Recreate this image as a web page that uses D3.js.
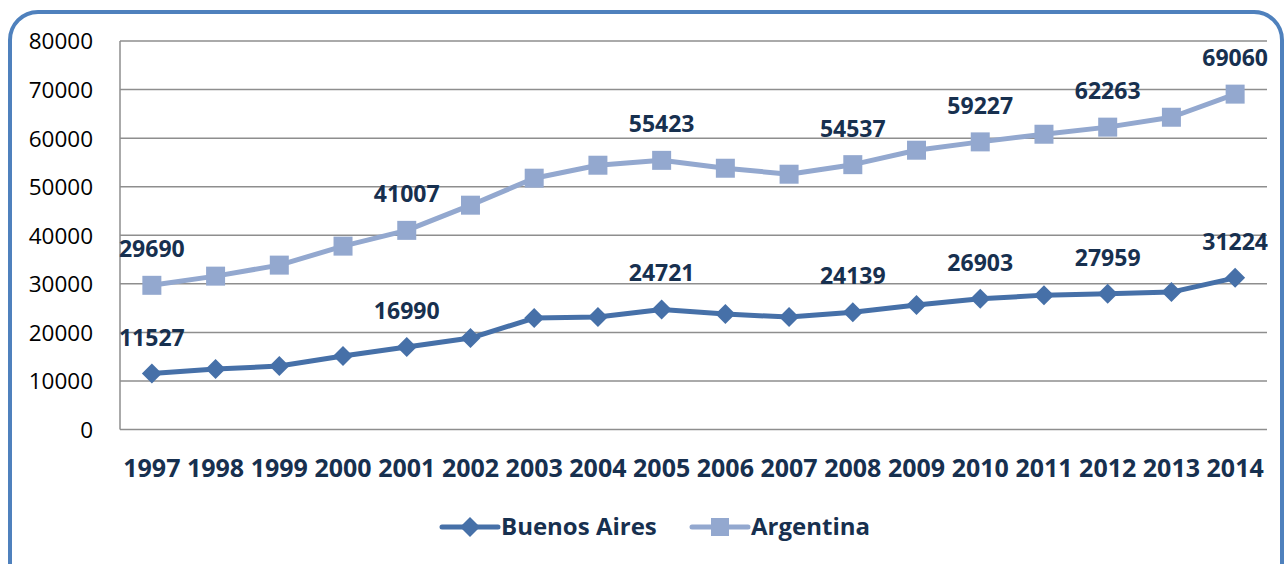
<!DOCTYPE html>
<html><head><meta charset="utf-8">
<script src="https://cdn.jsdelivr.net/npm/d3@7"></script>
<style>html,body{margin:0;padding:0;background:#fff;overflow:hidden}</style>
</head><body>
<svg id="c" width="1284" height="564"></svg>
<script>
const years = ["1997","1998","1999","2000","2001","2002","2003","2004","2005","2006","2007","2008","2009","2010","2011","2012","2013","2014"];
const buenosAires = [11527,12450,13070,15120,16990,18830,22940,23150,24721,23770,23150,24139,25620,26903,27670,27959,28290,31224];
const argentina = [29690,31580,33850,37760,41007,46190,51750,54420,55423,53800,52570,54537,57510,59227,60800,62263,64300,69060];
const labelled = ["1997","2001","2005","2008","2010","2012","2014"];
const yTicks = [0,10000,20000,30000,40000,50000,60000,70000,80000];
const seriesNames = ["Buenos Aires","Argentina"];

const svg = d3.select("#c");
const font = "'Open Sans', 'Noto Sans', sans-serif";
const textCol = "#17304f";
const cBA = "#4670a8", cAR = "#93a8cf";

svg.append("rect").attr("x",10).attr("y",12).attr("width",1272).attr("height",600)
  .attr("rx",28).attr("fill","#fff").attr("stroke","#4f81bd").attr("stroke-width",4);

const x = d3.scaleBand().domain(years).range([120,1267]);
const y = d3.scaleLinear().domain([0,80000]).range([429.5,41]);

svg.append("g").selectAll("line").data(yTicks).join("line")
  .attr("x1",120).attr("x2",1267).attr("y1",d=>y(d)).attr("y2",d=>y(d))
  .attr("stroke","#8e8e8e").attr("stroke-width",1.5);
svg.append("line").attr("x1",120).attr("x2",120).attr("y1",y(80000)).attr("y2",y(0))
  .attr("stroke","#8e8e8e").attr("stroke-width",1.5);

const ya = svg.append("g").attr("transform","translate(93,0)")
  .call(d3.axisLeft(y).tickValues(yTicks).tickFormat(d3.format("d")).tickSize(0).tickPadding(0));
ya.select(".domain").remove();
ya.selectAll("text").attr("font-family",font).attr("font-size",22.5).attr("fill","#000").attr("dy","0.35em");

const xa = svg.append("g").attr("transform","translate(0,468)")
  .call(d3.axisBottom(x).tickSize(0).tickPadding(0));
xa.select(".domain").remove();
xa.selectAll("text").attr("font-family",font).attr("font-size",25).attr("font-weight","bold")
  .attr("fill",textCol).attr("dy","0.35em");

const cx = d => x(d) + x.bandwidth()/2;
const line = d3.line().x((d,i)=>cx(years[i])).y(d=>y(d));

function drawSeries(vals, col, shape){
  svg.append("path").datum(vals).attr("d",line).attr("fill","none")
    .attr("stroke",col).attr("stroke-width",5).attr("stroke-linejoin","round");
  svg.append("g").selectAll("path").data(vals).join("path")
    .attr("transform",(d,i)=>`translate(${cx(years[i])},${y(d)})${shape==="sq"?"":" rotate(45)"}`)
    .attr("d", shape==="sq" ? d3.symbol().type(d3.symbolSquare).size(361)() : d3.symbol().type(d3.symbolSquare).size(200)())
    .attr("fill",col);
  svg.append("g").selectAll("text").data(vals.map((v,i)=>[years[i],v]).filter(d=>labelled.includes(d[0])))
    .join("text").attr("x",d=>cx(d[0])).attr("y",d=>y(d[1])-36).attr("dy","0.35em")
    .attr("text-anchor","middle").attr("font-family",font).attr("font-size",23).attr("font-weight","bold")
    .attr("fill",textCol).text(d=>d[1]);
}
drawSeries(argentina, cAR, "sq");
drawSeries(buenosAires, cBA, "dm");

const leg = [{n:seriesNames[0],c:cBA,s:"dm",x0:442},{n:seriesNames[1],c:cAR,s:"sq",x0:692}];
leg.forEach(l=>{
  const g = svg.append("g");
  g.append("line").attr("x1",l.x0).attr("x2",l.x0+56).attr("y1",527).attr("y2",527)
    .attr("stroke",l.c).attr("stroke-width",5).attr("stroke-linecap","round");
  g.append("path").attr("transform",`translate(${l.x0+28},527)${l.s==="sq"?"":" rotate(45)"}`)
    .attr("d", l.s==="sq" ? d3.symbol().type(d3.symbolSquare).size(324)() : d3.symbol().type(d3.symbolSquare).size(200)())
    .attr("fill",l.c);
  g.append("text").attr("x",l.x0+59).attr("y",527).attr("dy","0.35em")
    .attr("font-family",font).attr("font-size",24).attr("font-weight","bold").attr("fill",textCol).text(l.n);
});
</script>
</body></html>
